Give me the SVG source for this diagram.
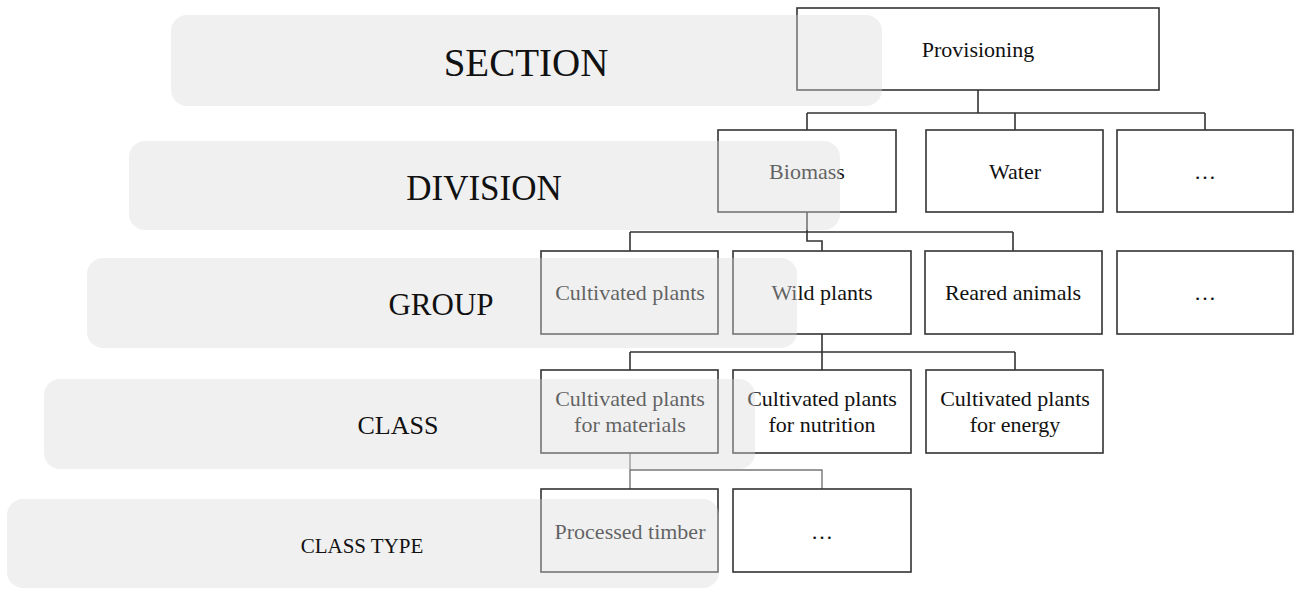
<svg xmlns="http://www.w3.org/2000/svg" width="1295" height="589" viewBox="0 0 1295 589">
<style>
.box{fill:#fff;stroke:#333;stroke-width:1.6}
.bt{font-family:"Liberation Serif","Times New Roman",serif;font-size:22px;fill:#111;text-anchor:middle}
.ln{fill:none;stroke:#333;stroke-width:1.6}
.ln2{fill:none;stroke:#777;stroke-width:1.4}
.band{fill:#d9d9d9;fill-opacity:0.4}
.lbl{font-family:"Liberation Serif","Times New Roman",serif;fill:#111;text-anchor:middle}
</style>
<rect width="1295" height="589" fill="#fff"/>
<g id="connectors">
<path class="ln" d="M978 90V113M807 113H1205M807 113V130M1015 113V130M1205 113V130"/>
<path class="ln" d="M807 212V241H822V251M630 232H1013M630 232V251M1013 232V251"/>
<path class="ln" d="M822 334V352M630 352H1015M630 352V370M822 352V370M1015 352V370"/>
<path class="ln2" d="M630 453V470H822V489M630 470V489"/>
</g>
<g id="n-provisioning"><rect class="box" x="797" y="8" width="362" height="82"/><text class="bt" x="978" y="57">Provisioning</text></g>
<g id="n-biomass"><rect class="box" x="718" y="130" width="178" height="82"/><text class="bt" x="807" y="179">Biomass</text></g>
<g id="n-water"><rect class="box" x="926" y="130" width="177" height="82"/><text class="bt" x="1015" y="179">Water</text></g>
<g id="n-div-more"><rect class="box" x="1117" y="130" width="176" height="82"/><text class="bt" x="1205" y="179">…</text></g>
<g id="n-cultivated"><rect class="box" x="541" y="251" width="177" height="83"/><text class="bt" x="630" y="300">Cultivated plants</text></g>
<g id="n-wild"><rect class="box" x="733" y="251" width="178" height="83"/><text class="bt" x="822" y="300">Wild plants</text></g>
<g id="n-reared"><rect class="box" x="925" y="251" width="177" height="83"/><text class="bt" x="1013" y="300">Reared animals</text></g>
<g id="n-group-more"><rect class="box" x="1117" y="251" width="176" height="83"/><text class="bt" x="1205" y="300">…</text></g>
<g id="n-materials"><rect class="box" x="541" y="370" width="177" height="83"/><text class="bt" x="630" y="406">Cultivated plants</text><text class="bt" x="630" y="432">for materials</text></g>
<g id="n-nutrition"><rect class="box" x="733" y="370" width="178" height="83"/><text class="bt" x="822" y="406">Cultivated plants</text><text class="bt" x="822" y="432">for nutrition</text></g>
<g id="n-energy"><rect class="box" x="926" y="370" width="177" height="83"/><text class="bt" x="1015" y="406">Cultivated plants</text><text class="bt" x="1015" y="432">for energy</text></g>
<g id="n-timber"><rect class="box" x="541" y="489" width="177" height="83"/><text class="bt" x="630" y="539">Processed timber</text></g>
<g id="n-type-more"><rect class="box" x="733" y="489" width="178" height="83"/><text class="bt" x="822" y="539">…</text></g>
<g id="bands">
<rect class="band" x="171" y="15" width="711" height="91" rx="16"/>
<rect class="band" x="129" y="141" width="711" height="89" rx="16"/>
<rect class="band" x="87" y="258" width="710" height="90" rx="16"/>
<rect class="band" x="44" y="379" width="711" height="90" rx="16"/>
<rect class="band" x="7" y="499" width="712" height="89" rx="16"/>
</g>
<g id="levels">
<text class="lbl" x="526" y="76" font-size="39">SECTION</text>
<text class="lbl" x="484" y="200" font-size="35">DIVISION</text>
<text class="lbl" x="441" y="315" font-size="31">GROUP</text>
<text class="lbl" x="398" y="434" font-size="26">CLASS</text>
<text class="lbl" x="362" y="553" font-size="21">CLASS TYPE</text>
</g>
</svg>
